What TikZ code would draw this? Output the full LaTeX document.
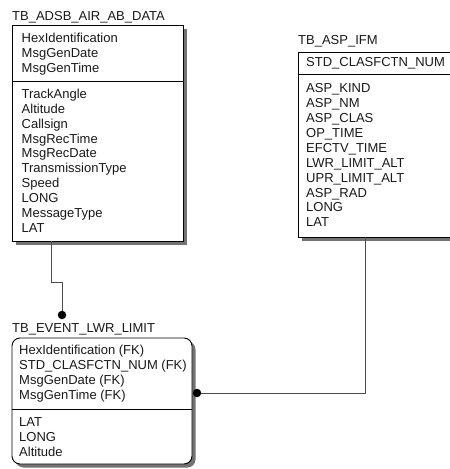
\documentclass[tikz,border=0pt]{standalone}
\usepackage{fontspec}
\setmainfont{Liberation Sans}
\usetikzlibrary{shadows,calc}
\begin{document}
\begin{tikzpicture}[x=1pt,y=-1pt,
  entity/.style={draw=black, line width=0.9pt, fill=white, inner sep=0pt, outer sep=0pt,
    anchor=north west,
    drop shadow={shadow xshift=3.5pt, shadow yshift=-3.5pt, fill=black!55, opacity=1}},
  depentity/.style={entity, rounded corners=8pt},
  field/.style={font=\fontsize{13}{15}\selectfont, inner sep=0pt, anchor=base west, text=black!90},
  divider/.style={draw=black, line width=0.9pt},
  rel/.style={draw=black!70, line width=1pt},
  enddot/.style={circle, inner sep=0pt, minimum size=8.5pt}]

% canvas
\fill[white] (0,0) rectangle (450,469);
\clip (0,0) rectangle (450,469);

% ---------- TB_ADSB_AIR_AB_DATA ----------
\node[field] (adsbtitle) at (12,20.7) {TB\_ADSB\_AIR\_AB\_DATA};
\node[entity, minimum width=171pt, minimum height=216pt] (adsb) at (12,25) {};
\draw[divider] (adsb.west |- 0,81) -- (adsb.east |- 0,81);
\foreach \t [count=\i] in {HexIdentification, MsgGenDate, MsgGenTime}
  \node[field] (adsbk\i) at (21.5,{42.3+(\i-1)*14.9}) {\t};
\foreach \t [count=\i] in {TrackAngle, Altitude, Callsign, MsgRecTime, MsgRecDate,
    TransmissionType, Speed, LONG, MessageType, LAT}
  \node[field] (adsbf\i) at (21.5,{98.3+(\i-1)*14.9}) {\t};

% ---------- TB_ASP_IFM ----------
\node[field] (asptitle) at (298,44.3) {TB\_ASP\_IFM};
\node[entity, minimum width=165pt, minimum height=185pt] (asp) at (298,52) {};
\draw[divider] (asp.west |- 0,74.3) -- (asp.east |- 0,74.3);
\node[field] (aspk1) at (306,66.7) {STD\_CLASFCTN\_NUM};
\foreach \t [count=\i] in {ASP\_KIND, ASP\_NM, ASP\_CLAS, OP\_TIME, EFCTV\_TIME,
    LWR\_LIMIT\_ALT, UPR\_LIMIT\_ALT, ASP\_RAD, LONG, LAT}
  \node[field] (aspf\i) at (306,{92.7+(\i-1)*14.9}) {\t};

% ---------- TB_EVENT_LWR_LIMIT ----------
\node[field] (evtitle) at (12,332.7) {TB\_EVENT\_LWR\_LIMIT};
\node[depentity, minimum width=180pt, minimum height=126pt] (ev) at (12,338) {};
\draw[divider] (ev.west |- 0,409.3) -- (ev.east |- 0,409.3);
\foreach \t [count=\i] in {HexIdentification (FK), STD\_CLASFCTN\_NUM (FK),
    MsgGenDate (FK), MsgGenTime (FK)}
  \node[field] (evk\i) at (19,{354.8+(\i-1)*15}) {\t};
\foreach \t [count=\i] in {LAT, LONG, Altitude}
  \node[field] (evf\i) at (19,{426.7+(\i-1)*15}) {\t};

% ---------- relationships ----------
\node[enddot] (dotA) at (62,315) {};
\node[enddot] (dotB) at (197,393) {};
\coordinate (adsbfoot) at ($(adsb.south west)+(39,0)$);
\coordinate (aspfoot) at ($(asp.south west)+(67,0)$);
\draw[rel] (adsbfoot) -- ++(0,41) -| (dotA.center);
\draw[rel] (aspfoot) |- (dotB.center);
% filled "many" ends of the relationships
\fill[black] (dotA.center) circle[radius=4.25pt];
\fill[black] (dotB.center) circle[radius=4.25pt];
\end{tikzpicture}
\end{document}
